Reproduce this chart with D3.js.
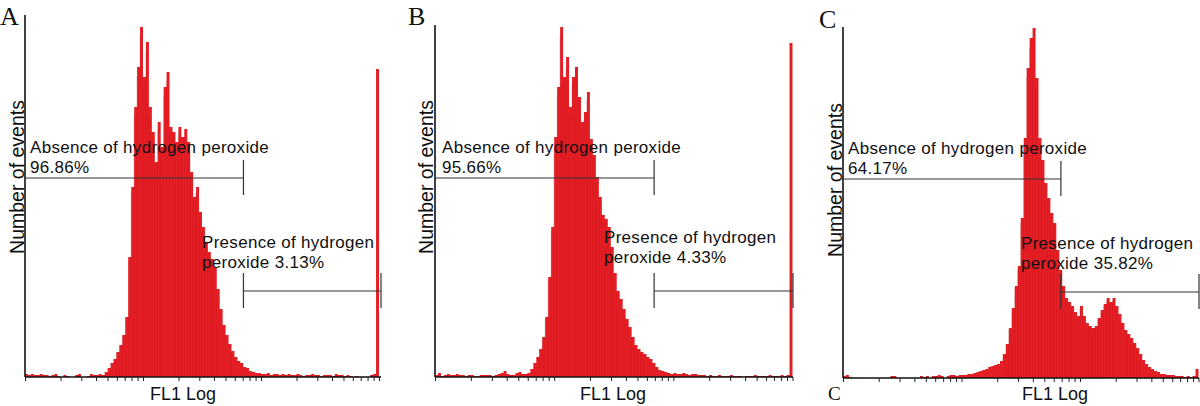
<!DOCTYPE html>
<html>
<head>
<meta charset="utf-8">
<script src="https://cdn.jsdelivr.net/npm/d3@7"></script>
<style>
  body { margin: 0; background: #fff; }
  svg { display: block; }
  .lbl { font-family: "Liberation Sans", Arial, Helvetica, sans-serif; fill: #111; }
  .letter { font-family: "Liberation Serif", "Times New Roman", serif; fill: #111; }
</style>
</head>
<body>
<div id="chart"></div>
<script>
// histogram counts, bins evenly spaced on the log axis (1 .. 1000), last bin = overflow
var countsA = [3,2,3,2,2,3,2,2,1,2,3,1,0,2,1,0,0,2,3,0,0,1,3,2,2,3,
  2,5,9,14,18,25,32,42,60,120,190,270,310,350,300,335,270,245,215,255,230,290,305,250,
  245,235,250,240,248,235,205,180,190,165,150,135,125,118,110,88,68,52,42,33,26,20,16,14,10,9,6,5,4,
  4,3,3,4,2,3,3,2,3,2,3,2,2,3,2,1,2,2,3,2,2,1,2,2,2,1,3,2,2,1,2,1,0,1,0,0,0,0,2,3,
  308];

var countsB = [2,4,1,2,3,2,2,3,2,2,1,2,2,1,1,2,2,2,2,1,2,3,4,6,3,2,2,4,5,3,3,
  4,8,14,20,28,40,60,100,150,240,290,350,300,320,270,300,310,280,255,265,
  285,238,222,200,180,162,158,150,130,104,86,78,68,58,50,40,32,28,25,23,20,18,14,10,7,6,5,
  4,3,4,3,3,4,3,2,3,3,2,2,2,1,2,1,1,2,1,1,1,2,1,1,1,0,1,1,1,2,1,1,1,1,2,1,1,1,2,1,2,
  334];

var countsC = [2,3,1,0,0,0,0,0,0,0,0,0,0,0,0,0,2,2,0,0,0,0,0,0,0,0,2,1,2,0,2,2,3,2,0,2,3,3,2,3,3,
  3,4,4,5,6,7,8,9,11,12,13,14,17,24,34,50,70,92,112,160,
  240,310,340,350,300,240,218,195,180,165,155,128,108,92,80,76,72,66,62,72,
  62,55,52,50,52,60,68,74,80,76,80,72,64,55,48,44,40,35,30,24,18,14,11,9,7,6,
  4,4,3,3,3,2,2,2,1,2,1,2,
  9];

var panelLetters = ["A", "B", "C"];
var absencePct = ["96.86%", "95.66%", "64.17%"];
var presencePct = ["3.13%", "4.33%", "35.82%"];
var gateChannel = [71, 69, 69];   // FL1 value where the two gates meet
var gateLevel = [199, 86];        // heights of absence / presence gate bars (events)
var xDomain = [1, 1000];
var yMax = 360;

var W = 1200, H = 406;

var svg = d3.select("#chart")
  .append("svg")
    .attr("width", W)
    .attr("height", H);

// pixel frame of each panel
var frames = [
  {left: 25, right: 379, base: 377, top: 15, axisEnd: 381, yLabX: 24, yLabY: 177,
   labX: 0, labY: 25, flX: 183, absX: 30, absY: 153, preX: 202, preY: 248},
  {left: 435, right: 792.5, base: 377, top: 25, axisEnd: 793, yLabX: 433, yLabY: 177,
   labX: 408, labY: 25, flX: 613, absX: 442, absY: 153, preX: 604, preY: 243},
  {left: 843, right: 1198.5, base: 378, top: 27, axisEnd: 1199, yLabX: 842, yLabY: 180,
   labX: 819, labY: 28, flX: 1055, absX: 848, absY: 154, preX: 1021, preY: 249}
];

var allCounts = [countsA, countsB, countsC];

function drawPanel(k) {
  var f = frames[k];
  var counts = allCounts[k];
  var n = counts.length;

  var x = d3.scaleLog().domain(xDomain).range([f.left, f.right]);
  var y = d3.scaleLinear().domain([0, yMax]).range([f.base, f.base - yMax]);

  var g = svg.append("g");

  var bins = counts.map(function(c, i) {
    return {x0: Math.pow(10, 3 * i / n), c: c};
  });
  bins.push({x0: xDomain[1], c: counts[n - 1]});

  var area = d3.area()
    .curve(d3.curveStepAfter)
    .x(function(d) { return x(d.x0); })
    .y0(y(0))
    .y1(function(d) { return y(d.c); });

  g.append("path")
    .datum(bins)
    .attr("d", area)
    .attr("fill", "#e41e25");

  // thin darker striations like the raw channel spikes
  g.selectAll("line.spk")
    .data(bins.slice(0, n - 1).filter(function(d) { return d.c > 20; }))
    .enter().append("line")
      .attr("class", "spk")
      .attr("x1", function(d) { return x(d.x0); })
      .attr("x2", function(d) { return x(d.x0); })
      .attr("y1", y(0))
      .attr("y2", function(d) { return y(d.c * 0.97); })
      .attr("stroke", "#c9141b")
      .attr("stroke-width", 0.5)
      .attr("opacity", 0.6);

  // axes
  var xAxis = d3.axisBottom(x)
    .tickValues(x.ticks())
    .tickSize(4)
    .tickSizeOuter(0)
    .tickFormat("");
  var ax = g.append("g")
    .attr("transform", "translate(0," + f.base + ")")
    .call(xAxis);
  ax.select(".domain").attr("stroke", "#111").attr("stroke-width", 1.6)
    .attr("d", "M" + f.left + ",0H" + f.axisEnd);
  ax.selectAll(".tick line").attr("stroke", "#222").attr("stroke-width", 1);

  g.append("line")
    .attr("x1", f.left).attr("x2", f.left)
    .attr("y1", f.base).attr("y2", f.top)
    .attr("stroke", "#111").attr("stroke-width", 1.6);

  // gates
  var gx = x(gateChannel[k]);
  var gateStyle = function(sel) { sel.attr("stroke", "#333").attr("stroke-width", 1.2); };
  var ya = y(gateLevel[0]), yp = y(gateLevel[1]);
  g.append("line").attr("x1", f.left).attr("x2", gx).attr("y1", ya).attr("y2", ya).call(gateStyle);
  g.append("line").attr("x1", gx).attr("x2", gx).attr("y1", ya - 18).attr("y2", ya + 17).call(gateStyle);
  g.append("line").attr("x1", gx).attr("x2", f.axisEnd).attr("y1", yp).attr("y2", yp).call(gateStyle);
  g.append("line").attr("x1", gx).attr("x2", gx).attr("y1", yp - 18).attr("y2", yp + 17).call(gateStyle);
  g.append("line").attr("x1", f.axisEnd).attr("x2", f.axisEnd).attr("y1", yp - 18).attr("y2", yp + 17).call(gateStyle);

  // texts
  g.append("text").attr("class", "letter")
    .attr("x", f.labX).attr("y", f.labY)
    .style("font-size", "26px")
    .text(panelLetters[k]);

  g.append("text").attr("class", "lbl")
    .attr("transform", "translate(" + f.yLabX + "," + f.yLabY + ") rotate(-90)")
    .attr("text-anchor", "middle")
    .style("font-size", "19.5px")
    .text("Number of events");

  g.append("text").attr("class", "lbl")
    .attr("x", f.flX).attr("y", 400)
    .attr("text-anchor", "middle")
    .style("font-size", "18px")
    .text("FL1 Log");

  var t1 = g.append("text").attr("class", "lbl")
    .attr("x", f.absX).attr("y", f.absY)
    .style("font-size", "17px").style("letter-spacing", "0.3px");
  t1.append("tspan").attr("x", f.absX).text("Absence of hydrogen peroxide");
  t1.append("tspan").attr("x", f.absX).attr("dy", 19.5).text(absencePct[k]);

  var t2 = g.append("text").attr("class", "lbl")
    .attr("x", f.preX).attr("y", f.preY)
    .style("font-size", "17px").style("letter-spacing", "0.3px");
  t2.append("tspan").attr("x", f.preX).text("Presence of hydrogen");
  t2.append("tspan").attr("x", f.preX).attr("dy", 19.5).text("peroxide " + presencePct[k]);
}

[0, 1, 2].forEach(drawPanel);

svg.append("text").attr("class", "letter")
  .attr("x", 828).attr("y", 400)
  .style("font-size", "19px")
  .text("C");
</script>
</body>
</html>
